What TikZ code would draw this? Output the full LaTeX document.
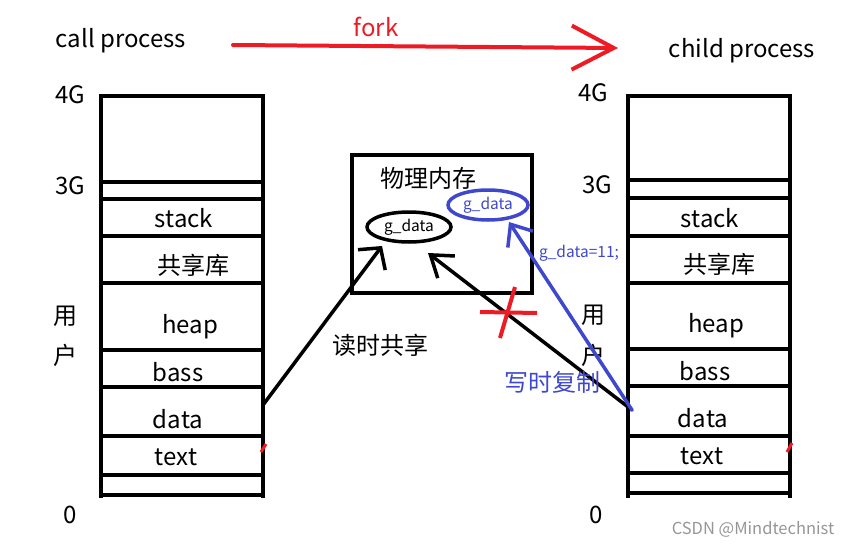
\documentclass[tikz,border=0pt]{standalone}
\usepackage{fontspec}
\setmainfont{Noto Sans CJK SC}
\usetikzlibrary{arrows.meta,shapes.geometric}
\definecolor{myred}{RGB}{237,28,36}
\definecolor{myblue}{RGB}{63,72,204}
\definecolor{wm}{RGB}{150,150,150}
\begin{document}
\begin{tikzpicture}[x=1pt,y=-1pt,
  wall/.style={line width=4pt},
  seg/.style={line width=3.5pt},
  lbl/.style={font=\fontsize{24}{26}\selectfont, inner sep=0pt},
  small/.style={font=\fontsize{15.5}{17}\selectfont, inner sep=0pt},
  conn/.style={line width=3.5pt, line cap=round}]
\useasboundingbox (0,0) rectangle (852,546);

% top
\node[lbl] (call) at (121,41) {call process};
\node[lbl] (child) at (742,51) {child process};
\node[lbl, text=myred] (fork) at (376,27) {fork};
\coordinate (fs) at (233,45);
\coordinate (fe) at (618,48);
\draw[myred, line width=4pt, line cap=round, -{Straight Barb[length=42pt,width=44pt]}] (fs) -- (fe);

% left stack
\draw[wall] (101,96) -- (263,96);
\draw[wall] (101,94) -- (101,498);
\draw[wall] (263,94) -- (263,498);
\foreach \y in {182,199,236,283,350,387,436,475,495} {\draw[seg] (101,\y) -- (263,\y);}
\node[lbl] (l4g) at (70,95) {4G};
\node[lbl] (l3g) at (70,186) {3G};
\node[lbl] (lyong) at (65,316) {用};
\node[lbl] (lhu) at (65,355) {户};
\node[lbl] (l0) at (70,515) {0};
\node[lbl] (lstack) at (184,218) {stack};
\node[lbl] (llib) at (193,265) {共享库};
\node[lbl] (lheap) at (190,327) {heap};
\node[lbl] (lbass) at (178,372) {bass};
\node[lbl] (ldata) at (178,419) {data};
\node[lbl] (ltext) at (176,457) {text};

% right stack
\draw[wall] (628,96) -- (790,96);
\draw[wall] (628,94) -- (628,498);
\draw[wall] (790,94) -- (790,498);
\foreach \y in {180,198,236,283,349,386,436,473,493} {\draw[seg] (628,\y) -- (790,\y);}
\node[lbl] (r4g) at (593,93) {4G};
\node[lbl] (r3g) at (597,185) {3G};
\node[lbl] (ryong) at (593,315) {用};
\node[lbl] (rhu) at (593,355) {户};
\node[lbl] (r0) at (596,515) {0};
\node[lbl] (rstack) at (710,218) {stack};
\node[lbl] (rlib) at (719,264) {共享库};
\node[lbl] (rheap) at (716,326) {heap};
\node[lbl] (rbass) at (705,371) {bass};
\node[lbl] (rdata) at (703,418) {data};
\node[lbl] (rtext) at (702,456) {text};

% small red marks
\draw[myred, line width=3pt] (261,452) -- (266,444);
\draw[myred, line width=3pt] (787,452) -- (792,443);

% physical memory
\draw[line width=4.5pt] (352,155) rectangle (532,293);
\node[lbl] (mem) at (428,178) {物理内存};
\node[ellipse, draw, line width=3.5pt, minimum width=84pt, minimum height=30pt, inner sep=0pt, font=\fontsize{15.5}{17}\selectfont] (gd) at (409,227) {g\_data};
\node[ellipse, draw=myblue, line width=3.5pt, text=myblue, minimum width=80pt, minimum height=30pt, inner sep=0pt, font=\fontsize{15.5}{17}\selectfont] (gdb) at (488,205) {g\_data};

% connectors
\coordinate (lout) at (263,405);
\coordinate (rout) at (632,410);
\coordinate (t1) at (382,246);
\coordinate (t2) at (428,253);
\coordinate (t3) at (509,222);
\draw[conn, -{Straight Barb[length=15pt,width=34pt]}] (lout) -- (t1);
\draw[conn, -{Straight Barb[length=20pt,width=28pt]}] (rout) -- (t2);
\draw[conn, myblue, -{Straight Barb[length=18pt,width=30pt]}] (rout) -- (t3);

% red cross
\draw[myred, line width=4pt] (480,312) -- (537,313);
\draw[myred, line width=4pt] (515,287) -- (500,338);

\node[lbl] (read) at (380,345) {读时共享};
\node[lbl, text=myblue] (write) at (552,382) {写时复制};
\node[small, text=myblue] (assign) at (579,253) {g\_data=11;};

\node[font=\fontsize{16.5}{18}\selectfont, text=wm, inner sep=0pt] (wmk) at (753,529) {CSDN @Mindtechnist};
\end{tikzpicture}
\end{document}
